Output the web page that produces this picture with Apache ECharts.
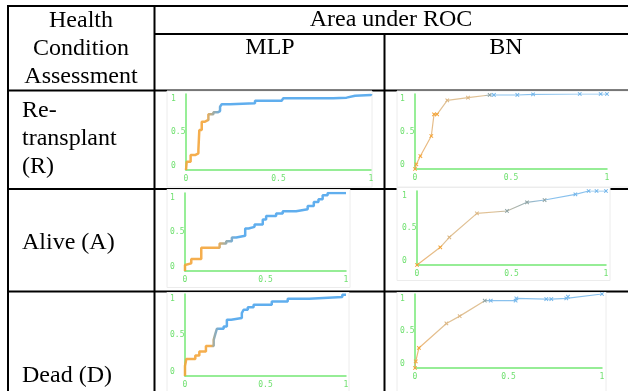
<!DOCTYPE html>
<html>
<head>
<meta charset="utf-8">
<script src="https://cdn.jsdelivr.net/npm/echarts@6/dist/echarts.min.js"></script>
<style>
  html, body { margin: 0; padding: 0; background: #fff; }
  #main { width: 628px; height: 391px; }
</style>
</head>
<body>
<div id="main"></div>
<script>
// table text
const headerLeft = ['Health', 'Condition', 'Assessment']
const headerTop = 'Area under ROC'
const methods = ['MLP', 'BN']
const rowLabels = [['Re-', 'transplant', '(R)'], ['Alive (A)'], ['Dead (D)']]
const tickLabels = ['0', '0.5', '1']

// ROC points [false positive rate, true positive rate]
const mlpR = [[0, 0], [0.004, 0.11], [0.025, 0.197], [0.049, 0.219], [0.067, 0.263], [0.072, 0.526],
  [0.085, 0.636], [0.103, 0.658], [0.121, 0.732], [0.148, 0.759], [0.171, 0.776], [0.184, 0.833],
  [0.193, 0.864], [0.238, 0.877], [0.373, 0.912], [0.517, 0.921], [0.526, 0.943], [0.796, 0.952],
  [0.868, 0.978], [0.914, 0.987], [1, 1]]
const bnR = [[0, 0], [0.007, 0.062], [0.028, 0.173], [0.085, 0.44], [0.099, 0.729], [0.115, 0.729],
  [0.168, 0.916], [0.276, 0.951], [0.389, 0.987], [0.411, 0.987], [0.533, 0.987], [0.615, 0.996],
  [0.858, 1], [0.967, 1], [1, 1]]
const mlpA = [[0, 0], [0, 0.077], [0.012, 0.098], [0.039, 0.153], [0.101, 0.298], [0.215, 0.353],
  [0.256, 0.383], [0.291, 0.43], [0.318, 0.451], [0.374, 0.545], [0.395, 0.566], [0.432, 0.596],
  [0.483, 0.66], [0.504, 0.706], [0.566, 0.736], [0.607, 0.766], [0.69, 0.791], [0.762, 0.834],
  [0.8, 0.885], [0.829, 0.919], [0.855, 0.97], [0.886, 1], [1, 1]]
const bnA = [[0, 0], [0.123, 0.239], [0.171, 0.374], [0.317, 0.698], [0.476, 0.73], [0.582, 0.847],
  [0.675, 0.878], [0.838, 0.955], [0.908, 1], [0.95, 1], [1, 1]]
const mlpD = [[0, 0], [0, 0.122], [0.008, 0.208], [0.064, 0.249], [0.089, 0.298], [0.13, 0.367],
  [0.178, 0.441], [0.188, 0.51], [0.198, 0.576], [0.24, 0.604], [0.26, 0.686], [0.287, 0.706],
  [0.353, 0.767], [0.364, 0.808], [0.39, 0.837], [0.426, 0.869], [0.539, 0.91], [0.638, 0.943],
  [0.771, 0.963], [0.977, 0.992], [1, 1]]
const bnD = [[0, 0], [0.004, 0.09], [0.021, 0.271], [0.168, 0.602], [0.239, 0.701], [0.373, 0.91],
  [0.405, 0.91], [0.538, 0.91], [0.542, 0.941], [0.702, 0.932], [0.729, 0.932], [0.809, 0.941],
  [0.818, 0.964], [1, 1]]

const ORANGE = '#f4a53a'
const TAN = '#dbb682'
const GREY = '#8fa3a3'
const BLUE = '#4ea5ec'
const LIGHTBLUE = '#74b6ea'
const GREEN = '#74e874'

// one panel per cell: grid box, the white "image" box behind it, colour breaks along x
const panels = [
  { data: mlpR, mlp: true, grid: [186, 94, 185, 76], img: [167, 91, 205, 96], stops: [0.12, 0.16, 0.2] },
  { data: bnR, mlp: false, grid: [415, 94, 192, 75], img: [397, 91, 240, 96], stops: [0.36, 0.38, 0.4] },
  { data: mlpA, mlp: true, grid: [185, 193, 161, 78], img: [167, 189.5, 183, 98], stops: [0.21, 0.26, 0.33] },
  { data: bnA, mlp: false, grid: [417, 191, 189, 74], img: [397, 187.5, 213, 93], stops: [0.4, 0.55, 0.7] },
  { data: mlpD, mlp: true, grid: [185, 294, 161, 82], img: [167, 292.5, 182, 100], stops: [0.17, 0.19, 0.23] },
  { data: bnD, mlp: false, grid: [415, 294, 187, 74], img: [397, 292.5, 209, 100], stops: [0.36, 0.38, 0.4] }
]

function lineGradient(p) {
  const [a, b, c] = p.stops
  const first = p.mlp ? ORANGE : TAN
  const last = p.mlp ? BLUE : LIGHTBLUE
  return {
    type: 'linear', x: 0, y: 0, x2: 1, y2: 0,
    colorStops: [
      { offset: 0, color: p.mlp ? ORANGE : '#eea85a' },
      { offset: Math.min(0.15, a), color: first },
      { offset: a, color: first },
      { offset: b, color: GREY },
      { offset: c, color: last },
      { offset: 1, color: last }
    ]
  }
}

function pointColor(p, x) {
  const [a, b, c] = p.stops
  if (x < a) return x < 0.15 ? ORANGE : TAN
  if (x < c) return GREY
  return p.mlp ? BLUE : LIGHTBLUE
}

const grids = [], xAxes = [], yAxes = [], series = []
const labelFont = { color: '#6fe06f', fontSize: 8, fontFamily: 'DejaVu Sans Mono' }
panels.forEach((p, i) => {
  const [l, t, w, h] = p.grid
  grids.push({ left: l, top: t, width: w, height: h })
  const axisCommon = {
    gridIndex: i, type: 'value', min: 0, max: 1, interval: 0.5,
    axisLine: { show: true, lineStyle: { color: GREEN, width: 1.5 } },
    axisTick: { show: false },
    splitLine: { show: false }
  }
  xAxes.push({
    ...axisCommon,
    axisLabel: { ...labelFont, margin: 5, formatter: v => tickLabels[Math.round(v * 2)] }
  })
  // end labels of the y axis sit a little inside, as in the original plots
  yAxes.push({
    ...axisCommon,
    axisLabel: {
      ...labelFont, margin: 15, align: 'left',
      formatter: v => v === 1 ? '{top|1}' : v === 0 ? '{bot|0}' : tickLabels[1],
      rich: {
        top: { ...labelFont, padding: [10, 0, 0, 0] },
        bot: { ...labelFont, padding: [0, 0, 8, 0] }
      }
    }
  })
  series.push({
    type: 'line',
    xAxisIndex: i, yAxisIndex: i,
    data: p.data,
    step: p.mlp ? 'end' : false,
    silent: true,
    symbol: p.mlp ? 'none' : 'path://M4,0H6V4H10V6H6V10H4V6H0V4H4Z',
    symbolRotate: 45,
    symbolSize: 5,
    itemStyle: { color: params => pointColor(p, params.value[0]) },
    lineStyle: { width: p.mlp ? 2.5 : 1.2, color: lineGradient(p), opacity: p.mlp ? 0.9 : 0.85 }
  })
})

const black = { stroke: '#000', lineWidth: 2 }
const hLine = (y, x1, x2) => ({ type: 'line', z: -2, shape: { x1, y1: y, x2, y2: y }, style: black })
const vLine = (x, y1, y2) => ({ type: 'line', z: -2, shape: { x1: x, y1, x2: x, y2 }, style: black })
const textStyle = { fill: '#000', font: '24px "Liberation Serif", "Times New Roman", serif', verticalAlign: 'middle' }
const label = (text, x, y, align) => ({ type: 'text', z: 5, x, y, style: { ...textStyle, text, align } })

const graphics = [
  hLine(6, 7, 628), vLine(8, 6, 391), vLine(154.5, 6, 391),
  hLine(34, 154.5, 628), vLine(384.5, 34, 391),
  hLine(90.5, 7, 628), hLine(189, 7, 628), hLine(291.5, 7, 628)
]
panels.forEach(p => {
  const [x, y, w, h] = p.img
  graphics.push({ type: 'rect', z: -1, shape: { x, y, width: w, height: h }, style: { fill: '#fff', stroke: '#ececec', lineWidth: 1 } })
})
headerLeft.forEach((s, k) => graphics.push(label(s, 81, 21 + k * 28, 'center')))
graphics.push(label(headerTop, 391, 20, 'center'))
graphics.push(label(methods[0], 270, 48, 'center'))
graphics.push(label(methods[1], 506, 48, 'center'))
rowLabels[0].forEach((s, k) => graphics.push(label(s, 22, 111 + k * 28, 'left')))
graphics.push(label(rowLabels[1][0], 22, 243, 'left'))
graphics.push(label(rowLabels[2][0], 22, 376, 'left'))

const chart = echarts.init(document.getElementById('main'))
chart.setOption({
  animation: false,
  backgroundColor: '#fff',
  grid: grids,
  xAxis: xAxes,
  yAxis: yAxes,
  series: series,
  graphic: graphics
})
</script>
</body>
</html>
